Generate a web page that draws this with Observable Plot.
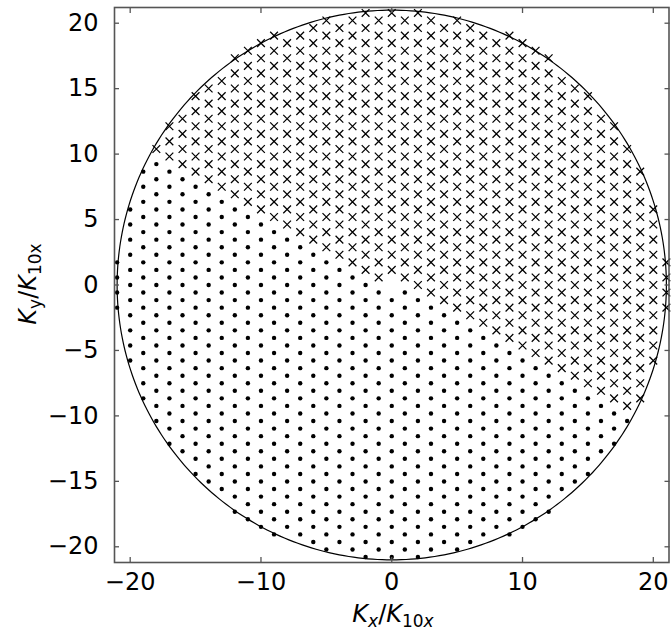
<!DOCTYPE html>
<html><head><meta charset="utf-8">
<script src="https://cdn.jsdelivr.net/npm/d3@7"></script>
<script src="https://cdn.jsdelivr.net/npm/@observablehq/plot@0.6"></script>
<style>
body{margin:0;background:#fff}
#chart svg, #chart svg text{font-family:"DejaVu Sans",sans-serif !important;}
</style>
</head><body><div id="chart"></div>
<script>
// Hexagonal lattice: columns at integer Kx (−21…21),
// rows every 1/√3 in Ky; half-height (in row steps) of each column for |Kx| = 0…21.
const columnHalfHeight = [36,35,36,35,34,35,34,33,32,33,32,31,30,27,26,25,22,21,18,15,10,3];
const rowStep = 1 / Math.sqrt(3);
const circleRadius = 21;
const xTicks = [-20, -10, 0, 10, 20];
const yTicks = [-20, -15, -10, -5, 0, 5, 10, 15, 20];
const domain = [-21.2, 21.2];

const points = [];
for (let i = -21; i <= 21; i++) {
  const h = columnHalfHeight[Math.abs(i)];
  for (let k = -h; k <= h; k += 2) {
    if (i === 0 && k === 0) continue;
    const cross = (i + k > 0) || (i + k === 0 && i < 0);
    points.push({x: i, y: k * rowStep, kind: cross ? "cross" : "dot"});
  }
}
const circle = d3.range(0, 361).map(a => ({
  x: circleRadius * Math.cos(a * Math.PI / 180),
  y: circleRadius * Math.sin(a * Math.PI / 180)
}));

const fmt = d => d < 0 ? "\u2212" + Math.abs(d) : String(d);
const frameColor = "#555";
const FONT = "DejaVu Sans";

const plot = Plot.plot({
  width: 671, height: 631,
  marginLeft: 114, marginRight: 2.5, marginTop: 7, marginBottom: 69,
  x: {domain, label: null},
  y: {domain, label: null},
  marks: [
    Plot.line(circle, {x: "x", y: "y", stroke: "black", strokeWidth: 1.2}),
    Plot.dot(points.filter(d => d.kind === "dot"), {x: "x", y: "y", r: 2.2, fill: "black", stroke: null}),
    Plot.dot(points.filter(d => d.kind === "cross"), {x: "x", y: "y", symbol: "times", r: 3.6, stroke: "black", strokeWidth: 1.25}),
    Plot.axisX(xTicks, {anchor: "bottom", tickSize: 0, tickPadding: 10, tickFormat: fmt, label: null, fontSize: 24, fontFamily: FONT}),
    Plot.axisY(yTicks, {anchor: "left", tickSize: 0, tickPadding: 16, tickFormat: fmt, label: null, fontSize: 24, fontFamily: FONT}),
    Plot.axisX(xTicks, {anchor: "bottom", tickSize: 5, dy: -5, fill: "none", label: null, stroke: frameColor, strokeWidth: 1.3}),
    Plot.axisX(xTicks, {anchor: "top", tickSize: 5, dy: 5, fill: "none", label: null, stroke: frameColor, strokeWidth: 1.3}),
    Plot.axisY(yTicks, {anchor: "left", tickSize: 5, dx: 5, fill: "none", label: null, stroke: frameColor, strokeWidth: 1.3}),
    Plot.axisY(yTicks, {anchor: "right", tickSize: 5, dx: -5, fill: "none", label: null, stroke: frameColor, strokeWidth: 1.3}),
    Plot.frame({stroke: frameColor, strokeWidth: 1.6})
  ]
});
document.getElementById("chart").appendChild(plot);

const svg = d3.select(plot);
svg.style("font-family", '"DejaVu Sans", sans-serif');
svg.selectAll('g[aria-label="x-axis tick label"] text, g[aria-label="y-axis tick label"] text')
  .style("font-family", '"DejaVu Sans", sans-serif').style("font-size", "24px");

// Axis titles with italic K and subscripts
const xl = svg.append("text").attr("x", 393).attr("y", 622).attr("text-anchor", "middle")
  .style("font-size", "24px").style("font-family", '"DejaVu Sans", sans-serif').attr("fill", "black");
xl.append("tspan").attr("font-style", "italic").text("K");
xl.append("tspan").attr("font-style", "italic").style("font-size", "17px").attr("dy", 5).text("x");
xl.append("tspan").attr("dy", -5).text("/");
xl.append("tspan").attr("font-style", "italic").text("K");
xl.append("tspan").style("font-size", "17px").attr("dy", 5).text("10");
xl.append("tspan").attr("font-style", "italic").style("font-size", "17px").text("x");

const yl = svg.append("text").attr("transform", "translate(36,284) rotate(-90)").attr("text-anchor", "middle")
  .style("font-size", "24px").style("font-family", '"DejaVu Sans", sans-serif').attr("fill", "black");
yl.append("tspan").attr("font-style", "italic").text("K");
yl.append("tspan").style("font-size", "17px").attr("dy", 5).text("y");
yl.append("tspan").attr("dy", -5).text("/");
yl.append("tspan").attr("font-style", "italic").text("K");
yl.append("tspan").style("font-size", "17px").attr("dy", 5).text("10x");
</script>
</body></html>
